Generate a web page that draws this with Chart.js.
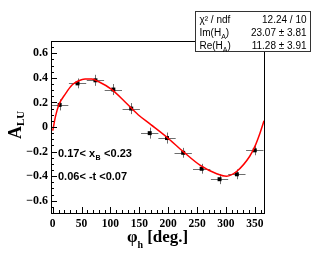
<!DOCTYPE html>
<html>
<head>
<meta charset="utf-8">
<script src="https://cdn.jsdelivr.net/npm/chart.js@4/dist/chart.umd.min.js"></script>
<style>
  html, body { margin: 0; padding: 0; background: #fff; }
  #wrap { position: relative; width: 315px; height: 255px; }
</style>
</head>
<body>
<div id="wrap"><canvas id="alu"></canvas></div>
<script>
// measured points
const PHI = [12, 43, 74, 105, 136, 168, 198, 226, 258, 289, 319, 350];
const ALU = [0.18, 0.355, 0.38, 0.305, 0.15, -0.05, -0.09, -0.21, -0.34, -0.425, -0.385, -0.19];
const PHI_ERR = [15, 15, 15, 15, 15, 15, 15, 15, 15, 15, 15, 15];
const ALU_ERR = [0.045, 0.04, 0.045, 0.045, 0.045, 0.045, 0.045, 0.04, 0.04, 0.04, 0.04, 0.04];

// fit curve
const FIT_PHI = [0, 5, 11, 22, 33, 45, 56, 68, 79, 102, 125, 148, 170, 197, 226, 255, 284, 301, 319, 341, 350, 359, 366];
const FIT_ALU = [-0.03, 0.09, 0.185, 0.27, 0.34, 0.376, 0.39, 0.39, 0.37, 0.306, 0.206, 0.1, 0.02, -0.08, -0.2, -0.31, -0.38, -0.40, -0.36, -0.24, -0.16, -0.05, 0.05];

const X_TICKS = [0, 50, 100, 150, 200, 250, 300, 350];
const Y_TICKS = [-0.6, -0.4, -0.2, 0, 0.2, 0.4, 0.6];

const STATS = [
  ["χ² / ndf", "12.24 / 10"],
  ["Im(H", "23.07 ± 3.81"],
  ["Re(H", "11.28 ± 3.91"]
];

const SERIF = '"Liberation Serif", "DejaVu Serif", serif';
const SANS = '"Liberation Sans", Arial, sans-serif';

function fmtY(v) {
  if (Math.abs(v) < 1e-9) return "0";
  return (v < 0 ? "\u2212" : "") + Math.abs(v).toFixed(1);
}

// error bars under the markers
const errorBars = {
  id: "errorBars",
  beforeDatasetsDraw(chart) {
    const { ctx, scales: { x, y } } = chart;
    ctx.save();
    ctx.strokeStyle = "#6e6e6e";
    ctx.lineWidth = 1;
    PHI.forEach((p, i) => {
      const px = x.getPixelForValue(p);
      const py = y.getPixelForValue(ALU[i]);
      const x0 = Math.max(x.getPixelForValue(p - PHI_ERR[i]), chart.chartArea.left);
      const x1 = x.getPixelForValue(p + PHI_ERR[i]);
      ctx.beginPath();
      ctx.moveTo(x0, Math.round(py) + 0.5);
      ctx.lineTo(x1, Math.round(py) + 0.5);
      ctx.moveTo(Math.round(px) + 0.5, y.getPixelForValue(ALU[i] + ALU_ERR[i]));
      ctx.lineTo(Math.round(px) + 0.5, y.getPixelForValue(ALU[i] - ALU_ERR[i]));
      ctx.stroke();
    });
    ctx.restore();
  }
};

// ROOT-like frame, inward ticks, titles, stats box
const rootFrame = {
  id: "rootFrame",
  afterDraw(chart) {
    const { ctx, chartArea: a, scales: { x, y } } = chart;
    ctx.save();
    ctx.strokeStyle = "#000";
    ctx.lineWidth = 1;
    ctx.strokeRect(Math.round(a.left) + 0.5, Math.round(a.top) + 0.5,
      Math.round(a.right - a.left), Math.round(a.bottom - a.top));

    ctx.beginPath();
    for (let v = -0.7; v <= 0.7001; v += 0.05) {
      const py = Math.round(y.getPixelForValue(v)) + 0.5;
      const major = Math.abs(Math.round(v * 10) % 2) === 0 && Math.abs(v * 10 - Math.round(v * 10)) < 1e-6;
      ctx.moveTo(a.left, py);
      ctx.lineTo(a.left + (major ? 6 : 3), py);
    }
    for (let v = 0; v <= 366; v += 10) {
      const px = Math.round(x.getPixelForValue(v)) + 0.5;
      ctx.moveTo(px, a.bottom);
      ctx.lineTo(px, a.bottom - (v % 50 === 0 ? 6 : 3));
    }
    ctx.stroke();

    // y title A_LU
    ctx.fillStyle = "#000";
    ctx.save();
    ctx.translate(21, 139);
    ctx.rotate(-Math.PI / 2);
    ctx.font = "bold 18px " + SERIF;
    ctx.fillText("A", 0, 0);
    const wA = ctx.measureText("A").width;
    ctx.font = "bold 11px " + SERIF;
    ctx.fillText("LU", wA, 3);
    ctx.restore();

    // x title phi_h [deg.]
    ctx.font = "bold 17px " + SERIF;
    ctx.fillText("φ", 127, 242);
    let cx = 127 + ctx.measureText("φ").width;
    ctx.font = "bold 10px " + SERIF;
    ctx.fillText("h", cx, 248);
    cx += ctx.measureText("h").width + 4;
    ctx.font = "bold 17px " + SERIF;
    ctx.fillText("[deg.]", cx, 242);

    // kinematic bin labels
    ctx.font = "bold 11px " + SANS;
    let tx = 58;
    ctx.fillText("0.17< x", tx, 157);
    tx += ctx.measureText("0.17< x").width;
    ctx.font = "bold 7px " + SANS;
    ctx.fillText("B", tx + 0.5, 160);
    tx += ctx.measureText("B").width + 1;
    ctx.font = "bold 11px " + SANS;
    ctx.fillText(" <0.23", tx, 157);
    ctx.fillText("0.06< -t <0.07", 58, 180);

    // stats box
    const bx = 195.5, by = 11.5, bw = 115, bh = 40;
    ctx.fillStyle = "#fff";
    ctx.fillRect(bx, by, bw, bh);
    ctx.strokeStyle = "#333";
    ctx.strokeRect(bx, by, bw, bh);
    ctx.fillStyle = "#000";
    STATS.forEach((row, i) => {
      const base = by + 11.5 + i * 13.1;
      ctx.font = "10px " + SANS;
      ctx.textAlign = "left";
      ctx.fillText(row[0], bx + 4, base);
      if (i > 0) {
        const w = ctx.measureText(row[0]).width;
        ctx.font = "7px " + SANS;
        ctx.fillText("A", bx + 4 + w, base + 3);
        const wa = ctx.measureText("A").width;
        ctx.font = "10px " + SANS;
        ctx.fillText(")", bx + 4 + w + wa, base);
      }
      ctx.textAlign = "right";
      ctx.fillText(row[1], bx + bw - 4, base);
    });
    ctx.restore();
  }
};

new Chart(document.getElementById("alu"), {
  type: "scatter",
  data: {
    datasets: [
      {
        label: "fit",
        data: FIT_PHI.map((p, i) => ({ x: p, y: FIT_ALU[i] })),
        showLine: true,
        borderColor: "#ff0000",
        borderWidth: 1.5,
        pointRadius: 0,
        cubicInterpolationMode: "monotone"
      },
      {
        label: "data",
        data: PHI.map((p, i) => ({ x: p, y: ALU[i] })),
        showLine: false,
        pointStyle: "rect",
        pointRadius: 2.8,
        backgroundColor: "#000",
        borderColor: "#000",
        borderWidth: 0
      }
    ]
  },
  options: {
    responsive: true,
    maintainAspectRatio: false,
    animation: false,
    layout: { padding: { top: 41, right: 51, left: 0, bottom: 0 } },
    plugins: { legend: { display: false }, tooltip: { enabled: false } },
    scales: {
      x: {
        type: "linear",
        min: -3,
        max: 366,
        afterBuildTicks: s => { s.ticks = X_TICKS.map(v => ({ value: v })); },
        afterFit: s => { s.height = 42; },
        grid: { display: false, drawTicks: false },
        border: { display: false },
        ticks: {
          padding: 4,
          color: "#000",
          font: { family: SERIF, size: 11.5, weight: "bold" },
          maxRotation: 0
        }
      },
      y: {
        type: "linear",
        min: -0.7,
        max: 0.7,
        afterBuildTicks: s => { s.ticks = Y_TICKS.map(v => ({ value: v })); },
        afterFit: s => { s.width = 51; },
        grid: { display: false, drawTicks: false },
        border: { display: false },
        ticks: {
          padding: 3,
          color: "#000",
          font: { family: SERIF, size: 12, weight: "bold" },
          callback: v => fmtY(v)
        }
      }
    }
  },
  plugins: [errorBars, rootFrame]
});
</script>
</body>
</html>
